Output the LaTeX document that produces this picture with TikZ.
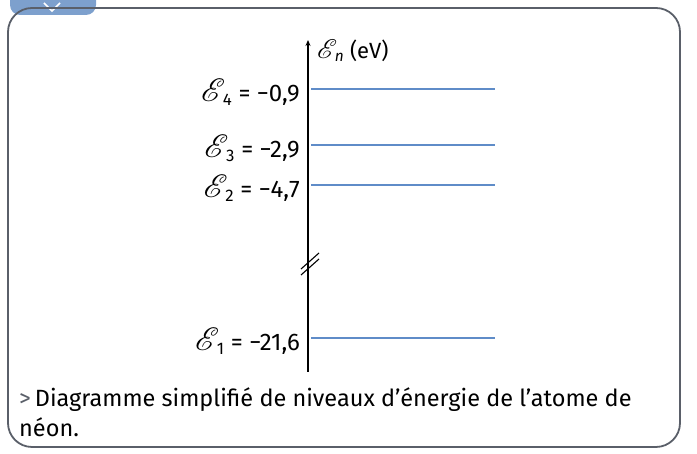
\documentclass[tikz,border=0pt]{standalone}
\usepackage{fontspec}
\setmainfont{Fira Sans}
\usepackage{mathrsfs}
\usetikzlibrary{positioning,arrows.meta}
\definecolor{neonblue}{RGB}{95,140,200}
\definecolor{neongray}{RGB}{90,95,105}
\definecolor{badgeblue}{RGB}{125,160,205}

\newcommand{\En}[1]{\scalebox{1.3}{$\mathscr{E}$}\kern-2.5pt\textsubscript{#1}}

\tikzset{
  level/.style={neonblue, line width=1.5pt},
  levellabel/.style={anchor=east, inner sep=0pt, font=\fontsize{24}{26}\selectfont},
  axis/.style={line width=1.1pt, -{Stealth[length=6pt,width=5pt]}},
  caption/.style={anchor=north west, inner sep=0pt, align=left, font=\fontsize{23.5}{30}\selectfont}
}

\begin{document}
\begin{tikzpicture}[x=1pt,y=1pt]
\useasboundingbox (0,0) rectangle (697,454);

% === Frame and badge ===
\begin{scope}
\clip (0,0) rectangle (697,454);
\fill[badgeblue, rounded corners=10pt] (10,439) rectangle (96,470);
\draw[white, line width=1.6pt] (44,451) -- (52,443) -- (60,451);
\end{scope}
\draw[neongray, line width=1.8pt, rounded corners=24pt] (8,7) rectangle (680,446);

% === Energy axis ===
\coordinate (axbot) at (308,82);
\coordinate (axtop) at (308,414);
\draw[axis] (axbot) -- (axtop);
\node[anchor=west, inner sep=0pt, font=\fontsize{22}{24}\selectfont] (axlabel) at (317,403) {\En{\itshape n} (eV)};

% Break marks
\coordinate (brk1) at (310,193);
\coordinate (brk2) at (310,187);
\draw[line width=1.1pt] ([shift={(-9,-8)}]brk1) -- ([shift={(9,8)}]brk1);
\draw[line width=1.1pt] ([shift={(-9,-8)}]brk2) -- ([shift={(9,8)}]brk2);

% === Levels ===
\coordinate (e4l) at (311,365); \coordinate (e4r) at (495,365);
\coordinate (e3l) at (311,309); \coordinate (e3r) at (495,309);
\coordinate (e2l) at (311,269); \coordinate (e2r) at (495,269);
\coordinate (e1l) at (311,116); \coordinate (e1r) at (495,116);

\draw[level] (e4l) -- (e4r);
\draw[level] (e3l) -- (e3r);
\draw[level] (e2l) -- (e2r);
\draw[level] (e1l) -- (e1r);

% Labels
\node[levellabel] (lab4) at (300,362) {\En{4} = −0,9};
\node[levellabel] (lab3) at (300,306) {\En{3} = −2,9};
\node[levellabel] (lab2) at (300,266) {\En{2} = −4,7};
\node[levellabel] (lab1) at (300,113) {\En{1} = −21,6};

% === Caption ===
\node[caption] (cap) at (19,67) {{\color{neongray}\fontseries{l}\selectfont >}\,Diagramme simplifié de niveaux d’énergie de l’atome de\\néon.};

\end{tikzpicture}
\end{document}
